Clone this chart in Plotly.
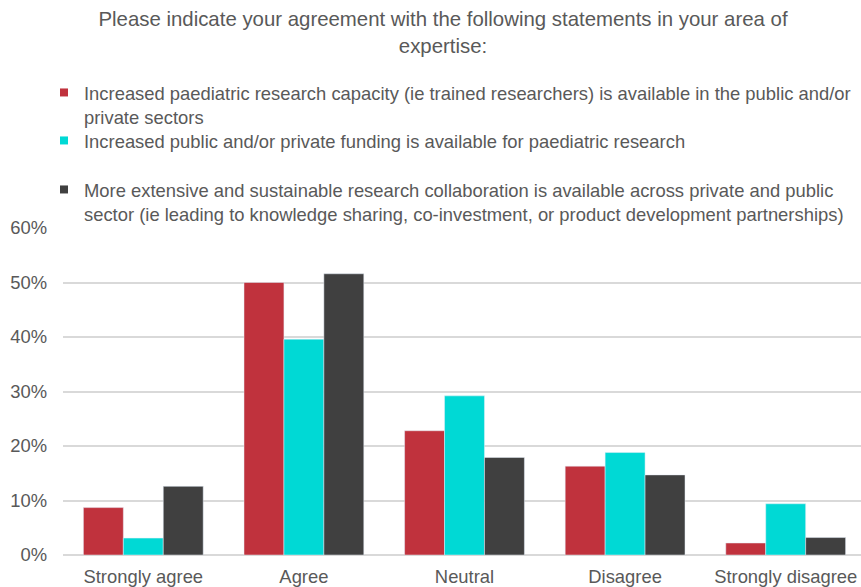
import plotly.graph_objects as go

categories = ["Strongly agree", "Agree", "Neutral", "Disagree", "Strongly disagree"]
series_names = [
    "Increased paediatric research capacity (ie trained researchers) is available in the public and/or<br>private sectors",
    "Increased public and/or private funding is available for paediatric research",
    "More extensive and sustainable research collaboration is available across private and public<br>sector (ie leading to knowledge sharing, co-investment, or product development partnerships)",
]
capacity = [8.7, 50.0, 22.8, 16.3, 2.2]
funding = [3.1, 39.6, 29.2, 18.8, 9.4]
collaboration = [12.6, 51.6, 17.9, 14.7, 3.2]
colors = ["#C0323D", "#00D9D5", "#404040"]
title_text = "Please indicate your agreement with the following statements in your area of<br>expertise:"

W, H = 861, 587
FONT = "Liberation Sans, Arial, sans-serif"
GREY = "#595959"
FS = 18.4

legend_ids = ["legend", "legend2", "legend3"]
legend_tops = [74, 122, 171]

fig = go.Figure()
for name, vals, col, lid in zip(series_names, [capacity, funding, collaboration], colors, legend_ids):
    fig.add_trace(go.Bar(x=categories, y=vals, marker_color=col, showlegend=False, name=name))
    fig.add_trace(go.Scatter(x=[None], y=[None], mode="markers", name=name, legend=lid,
                             marker=dict(symbol="square", size=8, color=col)))

legend_style = lambda top: dict(x=44 / W, xanchor="left", xref="container",
                                y=1 - top / H, yanchor="top", yref="container",
                                valign="top", itemwidth=30,
                                font=dict(size=FS, color=GREY, family=FONT),
                                bgcolor="rgba(0,0,0,0)")

fig.update_layout(
    width=W, height=H,
    margin=dict(l=63, r=0, t=228, b=32, autoexpand=False),
    paper_bgcolor="white", plot_bgcolor="white",
    font=dict(family=FONT, color=GREY, size=FS),
    bargap=0.254, bargroupgap=0,
    title=dict(text=title_text, x=443 / W, xanchor="center", xref="container",
               y=1 - 26 / H, yanchor="middle", yref="container",
               font=dict(size=20.4, color=GREY, family=FONT), automargin=False),
    legend=legend_style(legend_tops[0]),
    legend2=legend_style(legend_tops[1]),
    legend3=legend_style(legend_tops[2]),
    xaxis=dict(range=[-0.5, 4.5 - 5 / 160.75], showgrid=False, ticks="",
               tickfont=dict(size=FS, color=GREY), showline=False, automargin=False,
               ticklabelstandoff=9),
    yaxis=dict(range=[0, 60], dtick=10, ticksuffix="%", gridcolor="#D9D9D9", gridwidth=1.5,
               zeroline=True, zerolinecolor="#D9D9D9", zerolinewidth=1.5,
               tickfont=dict(size=FS, color=GREY), ticklabelstandoff=15, automargin=False),
)

fig.write_html("out.html", config={"displayModeBar": False},
               post_script="document.body.style.margin='0';")
